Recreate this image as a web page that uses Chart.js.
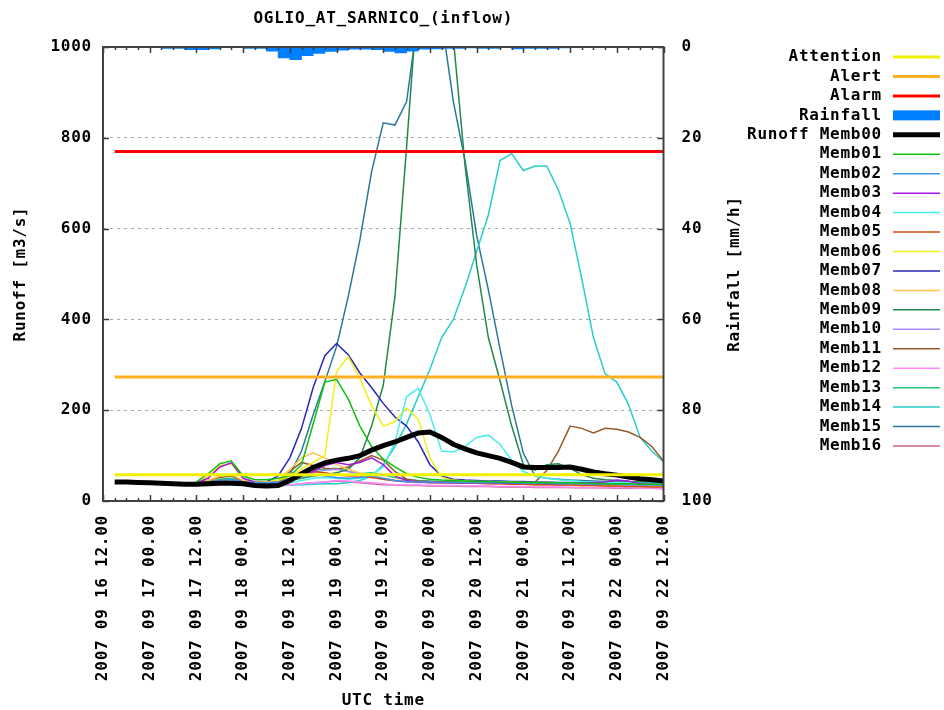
<!DOCTYPE html>
<html>
<head>
<meta charset="utf-8">
<title>OGLIO_AT_SARNICO_(inflow)</title>
<script src="https://cdn.jsdelivr.net/npm/chart.js@4.4.0/dist/chart.umd.min.js"></script>
<style>
  html, body { margin: 0; padding: 0; background: #fff; }
</style>
</head>
<body>
<canvas id="runoffChart" width="944" height="710"></canvas>
<script>
// time axis: hours counted from 2007-09-16 00:00 UTC
const runoffHours = [15, 18, 21, 24, 27, 30, 33, 36, 39, 42, 45, 48, 51, 54, 57, 60, 63, 66, 69, 72, 75, 78, 81, 84,
    87, 90, 93, 96, 99, 102, 105, 108, 111, 114, 117, 120, 123, 126, 129, 132, 135, 138, 141, 144, 147, 150, 153, 156];
const memberHours = [36, 39, 42, 45, 48, 51, 54, 57, 60, 63, 66, 69, 72, 75, 78, 81, 84, 87, 90, 93, 96, 99, 102,
    105, 108, 111, 114, 117, 120, 123, 126, 129, 132, 135, 138, 141, 144, 147, 150, 153, 156];
const rainHours = [28.5, 31.5, 34.5, 37.5, 40.5, 43.5, 46.5, 49.5, 52.5, 55.5, 58.5, 61.5, 64.5, 67.5, 70.5, 73.5,
    76.5, 79.5, 82.5, 85.5, 88.5, 91.5, 94.5, 97.5, 100.5, 103.5, 106.5, 109.5, 112.5, 115.5, 118.5, 121.5, 124.5, 127.5, 130.5];

// thresholds [m3/s]
const thresholdNames = ['Attention', 'Alert', 'Alarm'];
const thresholdValues = [58, 273, 770];

// rainfall [mm/h]
const rainValues = [0.3, 0.3, 0.6, 0.6, 0.4, 0.15, 0.15, 0.3, 0.3, 0.9, 2.4, 2.8, 1.9, 1.4, 1.0, 0.7,
    0.5, 0.5, 0.6, 1.0, 1.3, 0.9, 0.5, 0.4, 0.3, 0.3, 0.2, 0.3, 0.3, 0.1, 0.4, 0.3, 0.3, 0.3, 0.2];

// runoff [m3/s]
const memb00 = [42, 42, 41, 40, 39, 38, 37, 37, 38, 39, 39, 38, 34, 33, 34, 45, 60, 74, 84, 90, 94, 100, 112, 122,
    130, 140, 150, 152, 140, 125, 115, 106, 100, 94, 85, 75, 74, 74, 74, 75, 70, 64, 60, 57, 53, 49, 47, 44];

const memb01 = [42, 60, 82, 88, 55, 47, 47, 50, 55, 80, 170, 262, 268, 225, 165, 120, 92, 75, 60, 52, 48, 46, 45, 44, 43, 43, 42, 42, 41, 41, 40, 40, 40, 39, 39, 38, 38, 38, 37, 37, 37];
const memb02 = [40, 42, 45, 48, 42, 40, 40, 42, 48, 55, 58, 55, 52, 50, 52, 55, 50, 45, 43, 42, 42, 41, 41, 41, 40, 40, 40, 40, 39, 39, 39, 38, 38, 38, 37, 37, 37, 36, 36, 36, 35];
const memb03 = [40, 50, 75, 84, 50, 42, 40, 40, 45, 55, 65, 78, 85, 80, 85, 95, 80, 55, 45, 42, 41, 41, 40, 40, 40, 40, 39, 39, 39, 39, 38, 38, 39, 40, 41, 42, 46, 44, 38, 37, 36];
const memb04 = [38, 40, 42, 44, 40, 38, 37, 38, 40, 45, 50, 52, 50, 48, 50, 58, 75, 130, 230, 248, 190, 110, 108, 120, 140, 145, 125, 90, 65, 55, 50, 47, 45, 43, 42, 41, 40, 40, 39, 39, 38];
const memb05 = [40, 42, 45, 46, 42, 40, 40, 42, 50, 60, 65, 62, 58, 55, 55, 52, 48, 45, 43, 42, 41, 40, 40, 39, 39, 38, 38, 37, 37, 36, 36, 35, 35, 34, 34, 33, 33, 32, 32, 31, 31];
const memb06 = [40, 55, 78, 82, 50, 42, 42, 45, 55, 70, 85, 100, 285, 318, 270, 210, 165, 175, 205, 180, 95, 52, 46, 44, 43, 43, 42, 42, 41, 41, 41, 40, 40, 40, 39, 39, 39, 38, 38, 38, 37];
const memb07 = [40, 42, 44, 45, 42, 40, 42, 55, 95, 160, 250, 320, 347, 322, 282, 250, 215, 185, 165, 130, 80, 55, 48, 46, 45, 44, 44, 43, 43, 42, 42, 41, 41, 40, 40, 40, 39, 39, 39, 38, 38];
const memb08 = [40, 45, 55, 58, 45, 40, 40, 45, 70, 95, 106, 95, 80, 70, 62, 55, 50, 46, 44, 42, 41, 40, 40, 39, 39, 38, 38, 37, 37, 36, 36, 35, 35, 34, 34, 33, 33, 33, 32, 32, 32];
const memb09 = [38, 40, 42, 43, 40, 38, 38, 40, 45, 50, 55, 58, 62, 70, 95, 165, 255, 450, 780, 1130, 1250, 1150, 1020, 740, 520, 360, 265, 165, 80, 68, 80, 82, 72, 58, 50, 47, 45, 43, 42, 41, 40];
const memb10 = [38, 40, 43, 45, 40, 38, 38, 40, 45, 55, 62, 68, 70, 65, 60, 55, 48, 44, 42, 41, 41, 40, 40, 40, 39, 39, 39, 38, 38, 38, 37, 37, 37, 36, 36, 36, 35, 35, 35, 34, 34];
const memb11 = [40, 45, 52, 55, 44, 40, 40, 45, 65, 85, 78, 72, 70, 75, 88, 100, 90, 65, 48, 44, 43, 42, 42, 41, 41, 41, 40, 40, 40, 42, 67, 110, 165, 160, 150, 160, 158, 152, 140, 120, 88];
const memb12 = [36, 38, 42, 44, 38, 36, 35, 35, 36, 38, 40, 42, 45, 44, 42, 40, 38, 36, 35, 35, 34, 34, 34, 33, 33, 33, 32, 32, 32, 31, 31, 31, 30, 30, 30, 29, 29, 29, 28, 28, 28];
const memb13 = [38, 42, 48, 50, 42, 40, 40, 42, 50, 62, 68, 70, 72, 65, 60, 62, 58, 52, 48, 45, 44, 43, 42, 42, 41, 41, 41, 40, 40, 40, 39, 39, 39, 38, 38, 38, 37, 37, 37, 36, 36];
const memb14 = [35, 36, 38, 40, 37, 35, 34, 34, 35, 36, 37, 38, 38, 40, 45, 55, 80, 120, 170, 230, 290, 360, 400, 470, 550, 630, 750, 765, 728, 738, 738, 685, 612, 490, 360, 280, 262, 213, 140, 110, 86];
const memb15 = [38, 40, 43, 45, 40, 38, 38, 42, 58, 110, 190, 263, 340, 450, 575, 725, 833, 828, 880, 1070, 1150, 1060, 880, 750, 585, 465, 335, 210, 105, 55, 50, 48, 46, 45, 44, 43, 42, 41, 41, 40, 40];
const memb16 = [35, 36, 38, 40, 36, 34, 33, 33, 35, 38, 40, 42, 44, 42, 40, 38, 36, 35, 34, 34, 33, 33, 33, 32, 32, 32, 31, 31, 31, 30, 30, 30, 30, 29, 29, 29, 28, 28, 28, 28, 27];

const memberNames = ['Memb01', 'Memb02', 'Memb03', 'Memb04', 'Memb05', 'Memb06', 'Memb07', 'Memb08',
    'Memb09', 'Memb10', 'Memb11', 'Memb12', 'Memb13', 'Memb14', 'Memb15', 'Memb16'];
const memberValues = [memb01, memb02, memb03, memb04, memb05, memb06, memb07, memb08,
    memb09, memb10, memb11, memb12, memb13, memb14, memb15, memb16];
const memberColors = ['#10c010', '#3c94f0', '#a818e0', '#48eef0', '#d04a10', '#f0f018', '#2828b8', '#ffc450',
    '#208848', '#a888ff', '#985a28', '#ff88ff', '#20c870', '#28cccc', '#2a7898', '#c86888'];
const thresholdColors = ['#f0f000', '#ffb020', '#ff0000'];

const FONT = "'DejaVu Sans Mono', monospace";
const textFont = { family: FONT, size: 16, weight: 'bold' };
const LETTER_SPACING = '0.75px'; // the original pixel font is a bit wider

function timeLabel(h) {
    const day = 16 + Math.floor(h / 24);
    const hour = h % 24;
    return '2007 09 ' + day + ' ' + (hour < 10 ? '0' + hour : hour) + '.00';
}

const toPoints = (xs, ys) => ys.map((y, i) => ({ x: xs[i], y: y }));

const datasets = [];

// threshold lines
thresholdNames.forEach((name, i) => {
    datasets.push({
        label: name,
        data: toPoints([runoffHours[0], runoffHours[runoffHours.length - 1]], [thresholdValues[i], thresholdValues[i]]),
        borderColor: thresholdColors[i],
        borderWidth: 3,
        pointRadius: 0,
        yAxisID: 'y'
    });
});

// rainfall hanging from the top
datasets.push({
    type: 'bar',
    label: 'Rainfall',
    data: toPoints(rainHours, rainValues),
    backgroundColor: '#0080ff',
    borderWidth: 0,
    barPercentage: 1.0,
    categoryPercentage: 1.0,
    yAxisID: 'y2'
});

datasets.push({
    label: 'Runoff Memb00',
    data: toPoints(runoffHours, memb00),
    borderColor: '#000000',
    borderWidth: 5,
    pointRadius: 0,
    yAxisID: 'y'
});

memberNames.forEach((name, i) => {
    datasets.push({
        label: name,
        data: toPoints(memberHours, memberValues[i]),
        borderColor: memberColors[i],
        borderWidth: 1.5,
        pointRadius: 0,
        yAxisID: 'y'
    });
});

// frame, inward ticks, title, right axis title and legend
const decorPlugin = {
    id: 'decor',
    beforeUpdate(chart) {
        chart.ctx.letterSpacing = LETTER_SPACING;
    },
    beforeDraw(chart) {
        chart.ctx.letterSpacing = LETTER_SPACING;
    },
    afterDraw(chart) {
        const { ctx, chartArea: a } = chart;
        const x = chart.scales.x, y = chart.scales.y;
        ctx.save();

        ctx.strokeStyle = '#3a3a3a';
        ctx.lineWidth = 1.5;
        ctx.beginPath();
        for (let h = 12; h <= 156; h += 3) {
            const px = Math.round(x.getPixelForValue(h)) + 0.5;
            const len = h % 12 === 0 ? 6 : 3;
            ctx.moveTo(px, a.bottom); ctx.lineTo(px, a.bottom - len);
            ctx.moveTo(px, a.top); ctx.lineTo(px, a.top + len);
        }
        for (let v = 0; v <= 1000; v += 200) {
            const py = Math.round(y.getPixelForValue(v)) + 0.5;
            ctx.moveTo(a.left, py); ctx.lineTo(a.left + 6, py);
            ctx.moveTo(a.right, py); ctx.lineTo(a.right - 6, py);
        }
        ctx.stroke();

        ctx.strokeStyle = '#404040';
        ctx.lineWidth = 2;
        ctx.strokeRect(a.left, a.top, a.right - a.left, a.bottom - a.top);

        ctx.fillStyle = '#000';
        ctx.font = 'bold 16px ' + FONT;
        ctx.textBaseline = 'middle';
        ctx.textAlign = 'center';
        ctx.fillText('OGLIO_AT_SARNICO_(inflow)', (a.left + a.right) / 2, 19);

        ctx.save();
        ctx.translate(735, (a.top + a.bottom) / 2);
        ctx.rotate(-Math.PI / 2);
        ctx.fillText('Rainfall [mm/h]', 0, 0);
        ctx.restore();

        // legend
        ctx.textAlign = 'right';
        chart.data.datasets.forEach((ds, i) => {
            const rowY = 57 + i * 19.45;
            ctx.fillStyle = '#000';
            ctx.fillText(ds.label, 882, rowY);
            if (ds.type === 'bar') {
                ctx.fillStyle = ds.backgroundColor;
                ctx.fillRect(893, rowY - 5, 47, 10);
            } else {
                ctx.strokeStyle = ds.borderColor;
                ctx.lineWidth = ds.borderWidth;
                ctx.beginPath();
                ctx.moveTo(893, rowY);
                ctx.lineTo(940, rowY);
                ctx.stroke();
            }
        });
        ctx.restore();
    }
};

new Chart(document.getElementById('runoffChart'), {
    type: 'line',
    data: { datasets: datasets },
    options: {
        responsive: false,
        animation: false,
        devicePixelRatio: 1,
        layout: { padding: { top: 47, left: 0, right: 0, bottom: 0 } },
        elements: { line: { tension: 0, fill: false } },
        plugins: {
            legend: { display: false },
            tooltip: { enabled: false },
            title: { display: false }
        },
        scales: {
            x: {
                type: 'linear',
                min: 12,
                max: 156,
                offset: false,
                afterFit: scale => { scale.height = 209; },
                grid: { display: false, drawTicks: false },
                border: { display: false },
                ticks: {
                    stepSize: 12,
                    autoSkip: false,
                    minRotation: 90,
                    maxRotation: 90,
                    padding: 14,
                    color: '#000',
                    font: textFont,
                    callback: value => timeLabel(value)
                },
                title: {
                    display: true,
                    text: 'UTC time',
                    color: '#000',
                    font: textFont,
                    padding: { top: 0, bottom: 0 }
                }
            },
            y: {
                position: 'left',
                min: 0,
                max: 1000,
                afterFit: scale => { scale.width = 103; },
                grid: { color: '#a8a8a8', lineWidth: 1, drawTicks: false },
                border: { display: false, dash: [3, 4] },
                ticks: {
                    stepSize: 200,
                    padding: 11,
                    color: '#000',
                    font: textFont,
                    callback: value => String(value)
                },
                title: {
                    display: true,
                    text: 'Runoff [m3/s]',
                    color: '#000',
                    font: textFont,
                    padding: { top: 11, bottom: 0 }
                }
            },
            y2: {
                position: 'right',
                min: 0,
                max: 100,
                reverse: true,
                afterFit: scale => { scale.width = 280.5; },
                grid: { display: false, drawTicks: false },
                border: { display: false },
                ticks: {
                    stepSize: 20,
                    padding: 18,
                    color: '#000',
                    font: textFont,
                    callback: value => String(value)
                }
            }
        }
    },
    plugins: [decorPlugin]
});
</script>
</body>
</html>
